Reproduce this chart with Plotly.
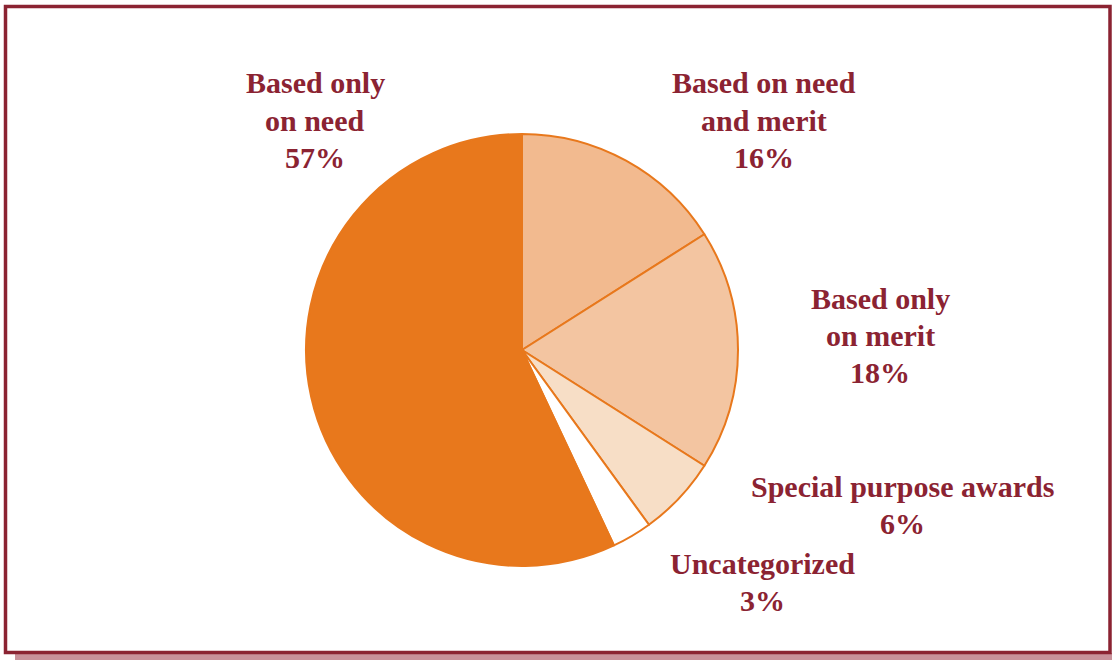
import plotly.graph_objects as go

labels = ["Based on need<br>and merit", "Based only<br>on merit", "Special purpose awards",
          "Uncategorized", "Based only<br>on need"]
values = [16, 18, 6, 3, 57]
colors = ["#F2BA8F", "#F3C5A1", "#F7DEC6", "#FFFFFF", "#E8781C"]

# centre of the first text line (pixels from top-left) for each slice label
label_pos = [(764, 83), (880, 298), (903, 486), (762, 563), (315, 83)]
line_gap = 37

W, H = 1112, 660
cx, cy, r = 522, 350, 216

fig = go.Figure(go.Pie(
    labels=labels, values=values, sort=False, direction="clockwise", rotation=0,
    marker=dict(colors=colors, line=dict(color="#E8781C", width=2)),
    textinfo="none", hoverinfo="label+percent", showlegend=False,
    domain=dict(x=[(cx - r) / W, (cx + r) / W], y=[(H - cy - r) / H, (H - cy + r) / H]),
))

for lab, val, (x, y) in zip(labels, values, label_pos):
    lines = lab.split("<br>") + [f"{val}%"]
    for i, line in enumerate(lines):
        fig.add_annotation(
            x=x / W, y=1 - (y + i * line_gap) / H, xref="paper", yref="paper",
            text=line, showarrow=False, xanchor="center", yanchor="middle",
            font=dict(family="Liberation Serif", size=30, color="#8B2332", weight="bold"),
        )

shapes = [
    dict(type="rect", xref="paper", yref="paper", x0=15 / W, x1=1, y0=0, y1=1 - 653 / H,
         line=dict(width=0), fillcolor="#C8919A", layer="below"),
    dict(type="rect", xref="paper", yref="paper", x0=5.5 / W, x1=1110 / W,
         y0=1 - 652.5 / H, y1=1 - 6.5 / H, line=dict(color="#8B2332", width=3.5)),
]
fig.update_layout(width=W, height=H, margin=dict(l=0, r=0, t=0, b=0),
                  paper_bgcolor="white", plot_bgcolor="white", shapes=shapes)
fig.write_html("out.html", config={"displayModeBar": False},
               post_script="document.body.style.margin='0';document.body.style.overflow='hidden';")
